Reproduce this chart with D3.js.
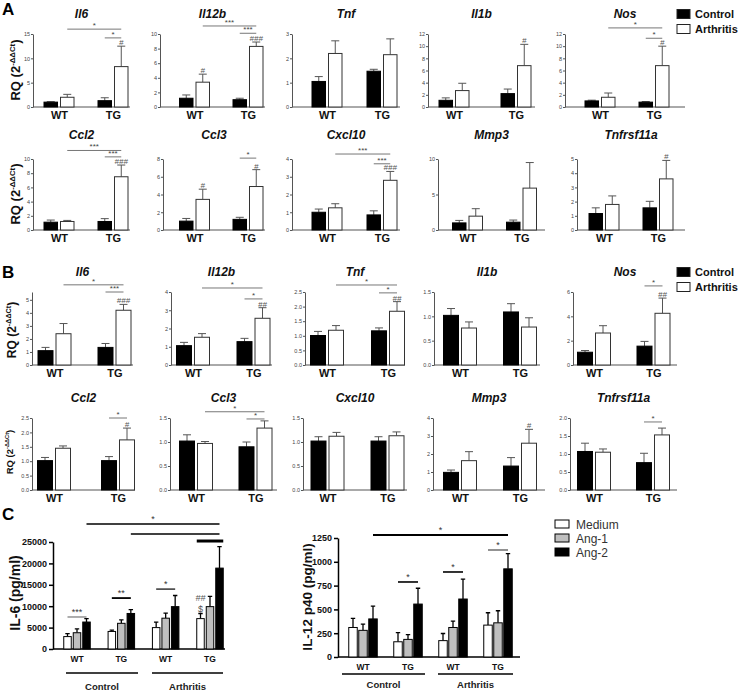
<!DOCTYPE html>
<html><head><meta charset="utf-8">
<script src="https://cdn.jsdelivr.net/npm/d3@7"></script>
<style>body{margin:0;background:#fff} text{font-family:Arial,"Liberation Sans",sans-serif}</style>
</head><body><svg id="c" width="750" height="691"></svg>
<script>
// ---------------- DATA ----------------
const genes = ["Il6","Il12b","Tnf","Il1b","Nos","Ccl2","Ccl3","Cxcl10","Mmp3","Tnfrsf11a"];
const groups = ["WT","TG"];
const seriesAB = ["Control","Arthritis"];

// Panel A: [WT, TG] per gene
const aControlMean = [[1.0,1.3],[1.2,1.0],[1.05,1.47],[1.1,2.2],[1.0,0.8],[1.1,1.2],[1.0,1.2],[1.0,0.85],[1.0,1.1],[1.16,1.56]];
const aControlSem  = [[0.1,0.6],[0.45,0.2],[0.2,0.08],[0.4,0.75],[0.12,0.1],[0.3,0.4],[0.3,0.23],[0.18,0.23],[0.35,0.3],[0.4,0.46]];
const aArthMean    = [[2.0,8.3],[3.4,8.3],[2.2,2.15],[2.7,6.8],[1.6,6.8],[1.2,7.5],[3.45,4.9],[1.25,2.8],[1.95,5.9],[1.8,3.6]];
const aArthSem     = [[0.6,4.2],[1.1,0.6],[0.52,0.65],[1.2,3.5],[0.7,3.2],[0.15,1.65],[1.15,1.9],[0.23,0.5],[1.05,3.6],[0.6,1.3]];
const aYMax = [15,10,3,12,12,10,8,4,10,5];
const aTicks = [[0,5,10,15],[0,2,4,6,8,10],[0,1,2,3],[0,2,4,6,8,10,12],[0,2,4,6,8,10,12],[0,2,4,6,8,10],[0,2,4,6,8],[0,1,2,3,4],[0,5,10],[0,1,2,3,4,5]];
const aSig = [
  {g:0,from:[0,1],to:[1,1],y:16.0,label:"*"},{g:0,from:[1,0],to:[1,1],y:14.2,label:"*"},
  {g:1,from:[0,1],to:[1,1],y:11.1,label:"***"},{g:1,from:[1,0],to:[1,1],y:10.1,label:"***"},
  {g:4,from:[0,1],to:[1,1],y:13.0,label:"*"},{g:4,from:[1,0],to:[1,1],y:11.3,label:"*"},
  {g:5,from:[0,1],to:[1,1],y:11.2,label:"***"},{g:5,from:[1,0],to:[1,1],y:10.3,label:"***"},
  {g:6,from:[1,0],to:[1,1],y:8.1,label:"*"},
  {g:7,from:[0,1],to:[1,1],y:4.28,label:"***"},{g:7,from:[1,0],to:[1,1],y:3.73,label:"***"}
];
const aHash = [
  {g:0,at:[1,1],label:"#"},{g:1,at:[0,1],label:"#"},{g:1,at:[1,1],label:"###"},{g:3,at:[1,1],label:"#"},
  {g:4,at:[1,1],label:"#"},{g:5,at:[1,1],label:"###"},{g:6,at:[0,1],label:"#"},{g:6,at:[1,1],label:"#"},
  {g:7,at:[1,1],label:"###"},{g:9,at:[1,1],label:"#"}
];

// Panel B
const bControlMean = [[1.1,1.35],[1.06,1.28],[1.01,1.17],[1.02,1.09],[1.05,1.55],[1.02,1.02],[1.02,0.9],[1.02,1.02],[0.98,1.33],[1.07,0.76]];
const bControlSem  = [[0.25,0.3],[0.18,0.18],[0.14,0.1],[0.14,0.17],[0.14,0.39],[0.11,0.14],[0.13,0.1],[0.09,0.09],[0.13,0.47],[0.23,0.26]];
const bArthMean    = [[2.4,4.2],[1.52,2.56],[1.19,1.84],[0.76,0.78],[2.63,4.25],[1.45,1.74],[0.97,1.29],[1.12,1.13],[1.63,2.6],[1.05,1.53]];
const bArthSem     = [[0.78,0.45],[0.2,0.58],[0.16,0.33],[0.125,0.19],[0.6,1.25],[0.08,0.41],[0.04,0.15],[0.08,0.08],[0.5,0.77],[0.09,0.19]];
const bYMax = [5.6,4,2.5,1.5,6,2.5,1.5,1.5,4,2];
const bTicks = [[0,1,2,3,4,5],[0,1,2,3,4],[0,0.5,1,1.5,2,2.5],[0,0.5,1,1.5],[0,2,4,6],[0,0.5,1,1.5,2,2.5],[0,0.5,1,1.5],[0,0.5,1,1.5],[0,1,2,3,4],[0,0.5,1,1.5,2]];
const bTickDecimals = [0,0,1,1,0,1,1,1,0,1];
const bSig = [
  {g:0,from:[0,1],to:[1,1],y:6.15,label:"*"},{g:0,from:[1,0],to:[1,1],y:5.6,label:"***"},
  {g:1,from:[0,1],to:[1,1],y:4.22,label:"*"},{g:1,from:[1,0],to:[1,1],y:3.62,label:"*"},
  {g:2,from:[0,1],to:[1,1],y:2.74,label:"*"},{g:2,from:[1,0],to:[1,1],y:2.47,label:"*"},
  {g:4,from:[1,0],to:[1,1],y:6.5,label:"*"},
  {g:5,from:[1,0],to:[1,1],y:2.5,label:"*"},
  {g:6,from:[0,1],to:[1,1],y:1.63,label:"*"},{g:6,from:[1,0],to:[1,1],y:1.48,label:"*"},
  {g:9,from:[1,0],to:[1,1],y:1.89,label:"*"}
];
const bHash = [
  {g:0,at:[1,1],label:"###"},{g:1,at:[1,1],label:"##"},{g:2,at:[1,1],label:"##"},{g:4,at:[1,1],label:"##"},
  {g:5,at:[1,1],label:"#"},{g:8,at:[1,1],label:"#"}
];

// Panel C
const cGroups = ["WT","TG","WT","TG"];
const cConditions = ["Control","Arthritis"];
const cSeries = ["Medium","Ang-1","Ang-2"];
const il6Mean = [[2900,3800,6300],[4100,6000,8300],[5000,7200,9900],[7100,9900,18900]];
const il6Sem  = [[700,900,800],[300,800,900],[1300,1200,2600],[1200,2400,5000]];
const il6Ticks = [0,5000,10000,15000,20000,25000];
const il12Mean = [[310,280,400],[160,185,556],[172,310,609],[335,359,926]];
const il12Sem  = [[95,65,135],[95,50,166],[75,67,208],[130,127,159]];
const il12Ticks = [0,250,500,750,1000,1250];
const il6Sig = [
  {from:[0,2],to:[3,2],y:29200,label:"*",w:1.3},
  {from:[1,2],to:[3,2],y:26870,label:"",w:1.3},
  {from:[3,0],to:[3,2],y:25230,label:"",w:3,span:true},
  {from:[0,0],to:[0,2],y:7480,label:"***",w:1.2,color:"#777"},
  {from:[1,0],to:[1,2],y:11900,label:"**",w:1.8},
  {from:[2,0],to:[2,2],y:14000,label:"*",w:1.2}
];
const il6Marks = [{at:[3,0],label:"$",dy:0},{at:[3,0],label:"##",dy:-11}];
const il12Sig = [
  {from:[0,2],to:[3,2],y:1281,label:"*",w:2},
  {from:[1,0],to:[1,2],y:788,label:"*",w:1.6},
  {from:[2,0],to:[2,2],y:893,label:"*",w:1.6},
  {from:[3,0],to:[3,2],y:1124,label:"*",w:1.6,color:"#777"}
];

// ---------------- LAYOUT ----------------
const layA = [
  {x0:33,c1:59,c2:113,x1:130},{x0:160,c1:194.5,c2:248,x1:265},{x0:292,c1:327,c2:382,x1:400},
  {x0:428,c1:454,c2:516,x1:535},{x0:565,c1:600,c2:654,x1:685},
  {x0:33,c1:59,c2:113,x1:130},{x0:163,c1:194.5,c2:248,x1:265},{x0:292,c1:327,c2:382,x1:400},
  {x0:438,c1:467.5,c2:521.5,x1:545},{x0:577,c1:604,c2:658,x1:685}
];
const layB = [
  {x0:32,c1:54.5,c2:114.5,x1:133},{x0:171,c1:193,c2:253.5,x1:272},{x0:305,c1:327,c2:388,x1:405},
  {x0:434,c1:460,c2:520,x1:540},{x0:573,c1:594,c2:653.5,x1:677},
  {x0:32,c1:54,c2:118,x1:135},{x0:170,c1:196,c2:255.5,x1:277},{x0:303,c1:327.5,c2:387.5,x1:407},
  {x0:433,c1:460,c2:520,x1:545},{x0:570,c1:594,c2:653,x1:677}
];
const rowsA = [{top:34,bot:107,title:18},{top:159,bot:230,title:139}];
const rowsB = [{top:292,bot:365,title:276},{top:418,bot:490,title:402}];

const svg = d3.select("#c");
const FONT = 'Arial,"Liberation Sans",sans-serif';

function rqSubplot(i, L, R, cm, cs, am, as, yMax, ticks, fmt, barW, gap, sigs, hashes) {
  const g = svg.append("g");
  const y = d3.scaleLinear().domain([0, yMax]).range([R.bot, R.top]);
  const x = d3.scalePoint().domain(groups).range([L.c1, L.c2]);
  const xs = d3.scaleBand().domain(seriesAB).range([-(barW + gap/2), barW + gap/2]).paddingInner(gap/(barW+gap));
  g.append("text").attr("x",(L.x0+L.x1)/2).attr("y",R.title).attr("text-anchor","middle")
    .attr("font-size",12).attr("font-weight","bold").attr("font-style","italic").attr("fill","#111").text(genes[i]);
  const ya = g.append("g").attr("transform",`translate(${L.x0},0)`)
    .call(d3.axisLeft(y).tickValues(ticks).tickSize(2).tickSizeOuter(0).tickPadding(1).tickFormat(fmt));
  ya.select(".domain").attr("stroke","#555");
  ya.selectAll(".tick line").attr("stroke","#555");
  ya.selectAll(".tick text").attr("font-size",5.5).attr("fill","#444").attr("font-family",FONT);
  g.append("line").attr("x1",L.x0).attr("x2",L.x1).attr("y1",R.bot).attr("y2",R.bot).attr("stroke","#555");
  const xa = g.append("g").attr("transform",`translate(0,${R.bot})`).call(d3.axisBottom(x).tickSize(0).tickPadding(4));
  xa.select(".domain").remove();
  xa.selectAll(".tick text").attr("font-size",11).attr("font-weight","bold").attr("fill","#111").attr("font-family",FONT);
  const recs = [];
  groups.forEach((gr, gi) => {
    recs.push({gr, s:"Control", m:cm[gi], e:cs[gi]});
    recs.push({gr, s:"Arthritis", m:am[gi], e:as[gi]});
  });
  const cx = d => x(d.gr) + xs(d.s) + xs.bandwidth()/2;
  g.selectAll(".eb").data(recs).enter().append("path")
    .attr("d", d => `M${cx(d)},${y(d.m)}V${y(d.m+d.e)}M${cx(d)-4},${y(d.m+d.e)}H${cx(d)+4}`)
    .attr("stroke","#555").attr("stroke-width",1).attr("fill","none");
  g.selectAll(".bar").data(recs).enter().append("rect")
    .attr("x", d => x(d.gr) + xs(d.s)).attr("width", xs.bandwidth())
    .attr("y", d => y(d.m)).attr("height", d => R.bot - y(d.m))
    .attr("fill", d => d.s === "Control" ? "#000" : "#fff")
    .attr("stroke", d => d.s === "Control" ? "#000" : "#333").attr("stroke-width",1);
  const pos = p => x(groups[p[0]]) + xs(seriesAB[p[1]]) + xs.bandwidth()/2;
  sigs.filter(s => s.g === i).forEach(s => {
    const yy = y(s.y);
    g.append("line").attr("x1",pos(s.from)).attr("x2",pos(s.to)).attr("y1",yy).attr("y2",yy).attr("stroke","#777").attr("stroke-width",1);
    g.append("text").attr("x",(pos(s.from)+pos(s.to))/2).attr("y",yy-1).attr("text-anchor","middle")
      .attr("font-size",8).attr("fill","#444").text(s.label);
  });
  hashes.filter(h => h.g === i).forEach(h => {
    const m = h.at[1] === 0 ? cm[h.at[0]] : am[h.at[0]];
    const e = h.at[1] === 0 ? cs[h.at[0]] : as[h.at[0]];
    g.append("text").attr("x",pos(h.at)).attr("y",y(m+e)-1).attr("text-anchor","middle")
      .attr("font-size",8).attr("font-style","italic").attr("fill","#555").text(h.label);
  });
}

for (let i = 0; i < 10; i++) {
  rqSubplot(i, layA[i], rowsA[Math.floor(i/5)], aControlMean[i], aControlSem[i], aArthMean[i], aArthSem[i],
    aYMax[i], aTicks[i], d3.format("d"), 13.5, 3, aSig, aHash);
  rqSubplot(i, layB[i], rowsB[Math.floor(i/5)], bControlMean[i], bControlSem[i], bArthMean[i], bArthSem[i],
    bYMax[i], bTicks[i], d3.format(bTickDecimals[i] ? ".1f" : "d"), 15, 3, bSig, bHash);
}

function rqLabel(cx, cy, fs, weight) {
  const t = svg.append("text").attr("transform",`translate(${cx},${cy}) rotate(-90)`).attr("text-anchor","middle")
    .attr("font-size",fs).attr("font-weight",weight).attr("fill","#111");
  t.append("tspan").text("RQ (2");
  t.append("tspan").attr("font-size",fs*0.6).attr("dy",-fs*0.4).text("-\u0394\u0394Ct");
  t.append("tspan").attr("dy",fs*0.4).text(")");
}
rqLabel(20, 70, 13, "bold");
rqLabel(20, 194, 13, "bold");
rqLabel(16, 330, 12, "bold");
rqLabel(13, 452, 9.5, "bold");

[["A",2,15],["B",2,278],["C",2,520]].forEach(([l,x,y]) =>
  svg.append("text").attr("x",x).attr("y",y).attr("font-size",17).attr("font-weight","bold").attr("fill","#000").text(l));

function abLegend(y0) {
  seriesAB.forEach((s, k) => {
    const yy = y0 + k*15;
    svg.append("rect").attr("x",677).attr("y",yy-4.5).attr("width",13).attr("height",9)
      .attr("fill", k === 0 ? "#000" : "#fff").attr("stroke","#222").attr("stroke-width",1);
    svg.append("text").attr("x",695).attr("y",yy+4).attr("font-size",11).attr("font-weight","bold").attr("fill","#111").text(s);
  });
}
abLegend(14);
abLegend(272);

// ---------------- PANEL C ----------------
const cFill = ["#fff","#bfbfbf","#000"];
function cPanel(means, sems, ticks, L, sigs, marks, ylabel) {
  const g = svg.append("g");
  const y = d3.scaleLinear().domain([0, L.ymax]).range([L.bot, L.top]);
  const x = d3.scalePoint().domain(d3.range(cGroups.length)).range([L.c1, L.c4]);
  const xs = d3.scaleBand().domain(cSeries).range([-(1.5*L.bw + L.gap), 1.5*L.bw + L.gap]).paddingInner(L.gap/(L.bw+L.gap));
  const ya = g.append("g").attr("transform",`translate(${L.x0},0)`)
    .call(d3.axisLeft(y).tickValues(ticks).tickSize(4).tickSizeOuter(0).tickPadding(2).tickFormat(d3.format("d")));
  ya.select(".domain").attr("stroke","#000").attr("stroke-width",1.5);
  ya.selectAll(".tick line").attr("stroke","#000").attr("stroke-width",1.5);
  ya.selectAll(".tick text").attr("font-size",9).attr("font-weight","bold").attr("fill","#111").attr("font-family",FONT);
  g.append("line").attr("x1",L.x0).attr("x2",L.x1).attr("y1",L.bot).attr("y2",L.bot).attr("stroke","#000").attr("stroke-width",1.5);
  const recs = [];
  means.forEach((row, gi) => row.forEach((m, si) => recs.push({gi, si, m, e: sems[gi][si]})));
  const left = d => x(d.gi) + xs(cSeries[d.si]);
  const cx = d => left(d) + xs.bandwidth()/2;
  g.selectAll(".eb").data(recs).enter().append("path")
    .attr("d", d => `M${cx(d)},${y(d.m)}V${y(d.m+d.e)}M${cx(d)-2.2},${y(d.m+d.e)}H${cx(d)+2.2}`)
    .attr("stroke","#000").attr("stroke-width",1.3).attr("fill","none");
  g.selectAll(".bar").data(recs).enter().append("rect")
    .attr("x", left).attr("width", xs.bandwidth()).attr("y", d => y(d.m)).attr("height", d => L.bot - y(d.m))
    .attr("fill", d => cFill[d.si]).attr("stroke","#000").attr("stroke-width",1);
  cGroups.forEach((lab, gi) => g.append("text").attr("x",x(gi)).attr("y",L.lab).attr("text-anchor","middle")
    .attr("font-size",8.5).attr("font-weight","bold").attr("fill","#111").text(lab));
  cConditions.forEach((c, k) => {
    const a = L.under[k];
    g.append("line").attr("x1",a[0]).attr("x2",a[1]).attr("y1",L.uy).attr("y2",L.uy).attr("stroke","#000").attr("stroke-width",1.5);
    g.append("text").attr("x",(a[0]+a[1])/2).attr("y",L.cy).attr("text-anchor","middle")
      .attr("font-size",9.5).attr("font-weight","bold").attr("fill","#222").text(c);
  });
  const pos = p => x(p[0]) + xs(cSeries[p[1]]) + xs.bandwidth()/2;
  sigs.forEach(s => {
    const yy = y(s.y);
    let a = pos(s.from), b = pos(s.to);
    if (s.span) { a -= xs.bandwidth()/2; b += xs.bandwidth()/2; }
    g.append("line").attr("x1",a).attr("x2",b).attr("y1",yy).attr("y2",yy).attr("stroke",s.color||"#000").attr("stroke-width",s.w);
    if (s.label) g.append("text").attr("x",(a+b)/2).attr("y",yy-2).attr("text-anchor","middle")
      .attr("font-size",9).attr("fill","#333").text(s.label);
  });
  marks.forEach(mk => {
    const m = means[mk.at[0]][mk.at[1]], e = sems[mk.at[0]][mk.at[1]];
    g.append("text").attr("x",pos(mk.at)).attr("y",y(m+e)-1+mk.dy).attr("text-anchor","middle")
      .attr("font-size",9).attr("font-style", mk.label === "$" ? "normal" : "italic").attr("fill","#555").text(mk.label);
  });
  svg.append("text").attr("transform",`translate(${L.ylx},${L.yly}) rotate(-90)`).attr("text-anchor","middle")
    .attr("font-size",L.ylfs).attr("font-weight","bold").attr("fill","#111").text(ylabel);
}
cPanel(il6Mean, il6Sem, il6Ticks,
  {ymax:25000, top:542, bot:649, x0:53, x1:225, c1:77, c4:210, bw:7.5, gap:2, lab:662, uy:673, cy:690,
   under:[[66,138],[152,223]], ylx:20, yly:593, ylfs:14}, il6Sig, il6Marks, "IL-6 (pg/ml)");
cPanel(il12Mean, il12Sem, il12Ticks,
  {ymax:1250, top:538, bot:657, x0:338, x1:520, c1:363, c4:498, bw:8.5, gap:1.5, lab:670, uy:674, cy:688,
   under:[[342,425],[438,513]], ylx:312, yly:597, ylfs:13.5}, il12Sig, [], "IL-12 p40 (pg/ml)");

cSeries.forEach((s, k) => {
  const yy = 524 + k*14;
  svg.append("rect").attr("x",555).attr("y",yy-4).attr("width",14).attr("height",8)
    .attr("fill",cFill[k]).attr("stroke","#000").attr("stroke-width",1);
  svg.append("text").attr("x",576).attr("y",yy+4.5).attr("font-size",12).attr("fill","#333").text(s);
});
</script></body></html>
